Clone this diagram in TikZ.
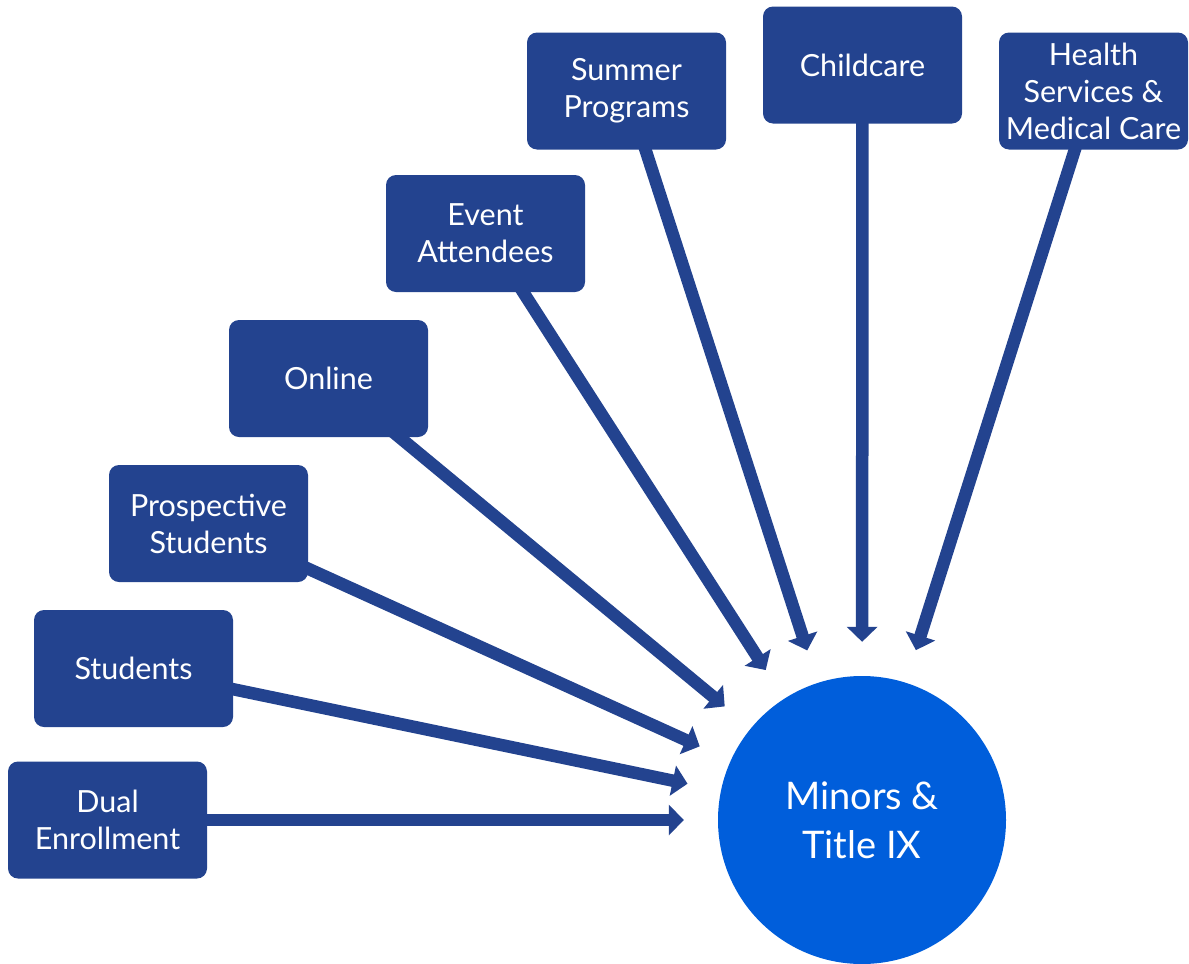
\documentclass[tikz,border=0pt]{standalone}
\usepackage{fontspec}
\setmainfont{Lato}
\usetikzlibrary{arrows.meta,backgrounds}
\definecolor{boxblue}{HTML}{23438F}
\definecolor{circblue}{HTML}{005EDB}
\begin{document}
\begin{tikzpicture}[x=1pt,y=-1pt,
 srcbox/.style={fill=boxblue, rounded corners=10pt, minimum width=199pt, minimum height=117pt, inner sep=0pt, text=white, align=center, font=\fontsize{30.5}{37}\selectfont},
 hub/.style={circle, fill=circblue, minimum size=288pt, inner sep=0pt, text=white, align=center, font=\fontsize{38}{49}\selectfont},
 arr/.style={draw=boxblue, line width=12.5pt, -{Triangle[length=15pt,width=30pt]}, shorten >=34pt}]
\useasboundingbox (0,0) rectangle (1189,964);
\node[hub] (c) at (862,820) {Minors \&\\Title IX};
\node[srcbox] (dual) at (107.5,820) {Dual\\Enrollment};
\node[srcbox] (stud) at (133.5,668.5) {Students};
\node[srcbox] (pros) at (208.5,523.5) {Prospective\\Students};
\node[srcbox] (onl) at (328.5,378.5) {Online};
\node[srcbox] (evt) at (485.5,233.5) {Event\\Attendees};
\node[srcbox] (sum) at (626.5,91) {Summer\\Programs};
\node[srcbox] (child) at (862.5,65) {Childcare};
\node[srcbox, minimum width=189pt] (hlth) at (1093.5,91) {Health\\Services \&\\Medical Care};
\begin{scope}[on background layer]
\foreach \b in {dual,stud,pros,onl,evt,sum,child,hlth}
  \draw[arr] (\b.center) -- (c);
\end{scope}
\end{tikzpicture}
\end{document}
